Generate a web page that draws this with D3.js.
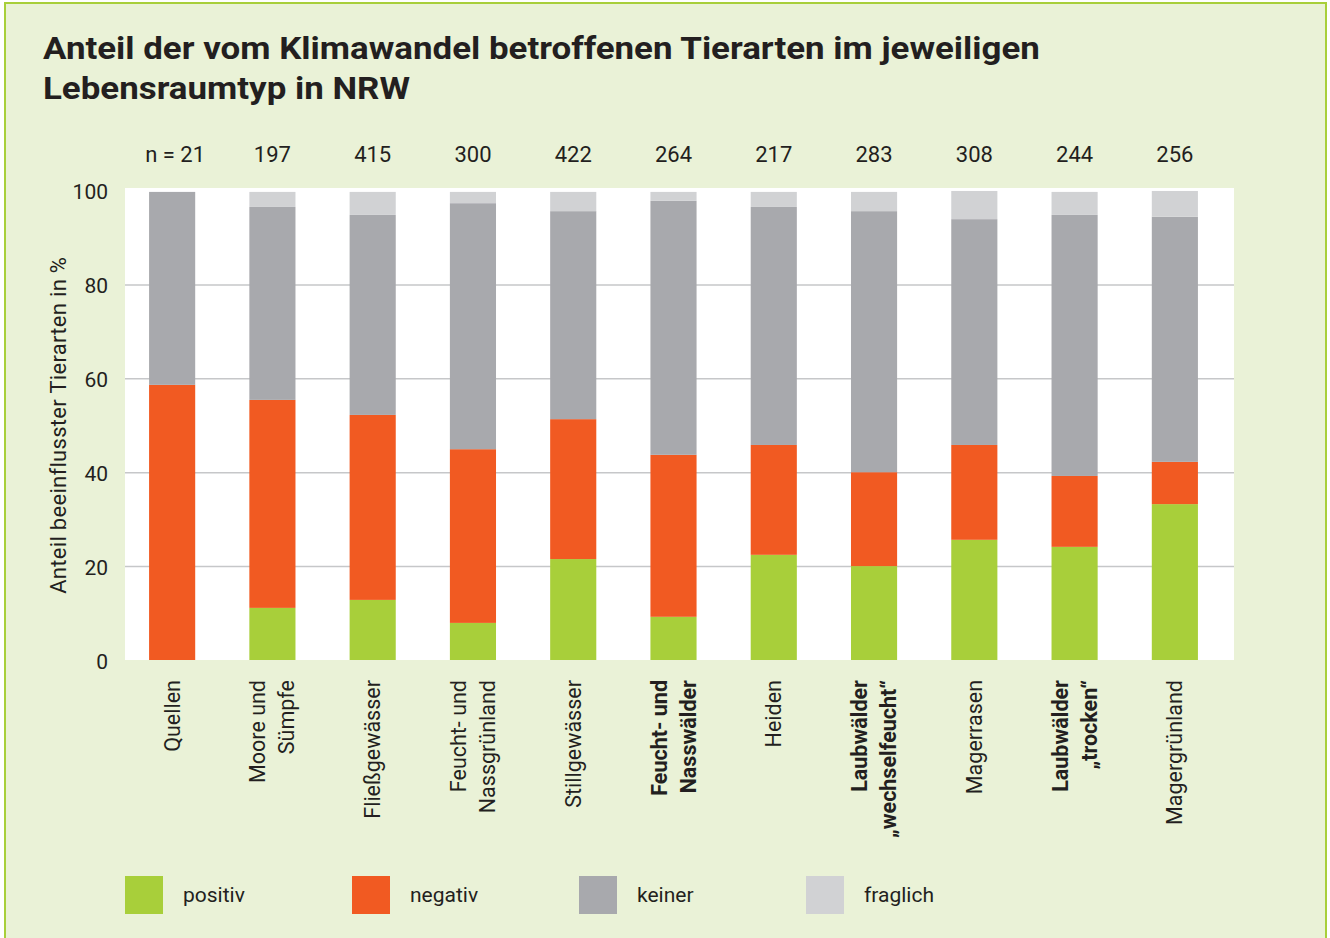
<!DOCTYPE html>
<html lang="de">
<head>
<meta charset="utf-8">
<script src="https://cdn.jsdelivr.net/npm/d3@7"></script>
<style>
  body { margin: 0; background: #fff; }
  text { font-family: Roboto, 'Open Sans', sans-serif; fill: #231f20; }
</style>
</head>
<body>
<div class="canvas"></div>
<script>
// data (shares in %)
const categories = [
    'Quellen', 'Moore und\nSümpfe', 'Fließgewässer', 'Feucht- und\nNassgrünland',
    'Stillgewässer', 'Feucht- und\nNasswälder', 'Heiden', 'Laubwälder\n„wechselfeucht“',
    'Magerrasen', 'Laubwälder\n„trocken“', 'Magergrünland'
];
const nCounts = [21, 197, 415, 300, 422, 264, 217, 283, 308, 244, 256];
const positiv = [0, 11.1, 12.8, 7.9, 21.5, 9.2, 22.4, 20.0, 25.6, 24.1, 33.2];
const negativ = [58.6, 44.3, 39.4, 37.0, 29.8, 34.5, 23.4, 20.0, 20.2, 15.1, 9.0];
const keiner = [41.1, 41.1, 42.6, 52.4, 44.3, 54.1, 50.7, 55.6, 48.1, 55.6, 52.2];
const fraglich = [0, 3.2, 4.9, 2.4, 4.1, 1.9, 3.2, 4.1, 6.0, 4.9, 5.5];
const seriesNames = ['positiv', 'negativ', 'keiner', 'fraglich'];
const yTicks = [0, 20, 40, 60, 80, 100];

// category labels printed in bold
const boldLabels = ['Feucht- und\nNasswälder', 'Laubwälder\n„wechselfeucht“', 'Laubwälder\n„trocken“'];

const colours = d3.scaleOrdinal()
    .domain(seriesNames)
    .range(['#a8cf3a', '#f15a22', '#a8a9ad', '#d1d2d4']);

const width = 1330;
const height = 938;

const svg = d3.select('.canvas')
    .append('svg')
    .attr('width', width)
    .attr('height', height);

// light green panel with border
svg.append('rect')
    .attr('x', 5)
    .attr('y', 3)
    .attr('width', 1321)
    .attr('height', 945)
    .attr('fill', '#eaf2d7')
    .attr('stroke', '#a8cf3a')
    .attr('stroke-width', 2);

// title, stretched horizontally to the width of the original lettering
const title = svg.append('text')
    .attr('font-size', 31)
    .attr('font-weight', 700);
const line1 = title.append('tspan').attr('y', 59)
    .text('Anteil der vom Klimawandel betroffenen Tierarten im jeweiligen');
title.append('tspan').attr('y', 99)
    .text('Lebensraumtyp in NRW');
const sx = 997 / line1.node().getComputedTextLength();
title.attr('transform', `scale(${sx}, 1)`)
    .selectAll('tspan').attr('x', 43 / sx);

// scales
const x = d3.scaleBand()
    .domain(categories)
    .range([122, 1225])
    .paddingInner(0.54)
    .paddingOuter(0.27);

const y = d3.scaleLinear()
    .domain([0, 100])
    .range([660, 190.5]);

// white plot area
svg.append('rect')
    .attr('x', 125)
    .attr('y', 188)
    .attr('width', 1109)
    .attr('height', y(0) - 188)
    .attr('fill', '#fff');

// gridlines
const gridGroup = svg.append('g')
    .attr('transform', 'translate(125, 0)')
    .call(d3.axisLeft(y)
        .tickValues([20, 40, 60, 80])
        .tickSize(-1109)
        .tickFormat(''));
gridGroup.select('.domain').remove();
gridGroup.selectAll('line')
    .attr('stroke', '#c6c7c9')
    .attr('stroke-width', 1.5);

// y axis labels
const yAxisGroup = svg.append('g')
    .attr('transform', 'translate(125, 0)')
    .call(d3.axisLeft(y).tickValues(yTicks).tickSize(0).tickPadding(17));
yAxisGroup.select('.domain').remove();
yAxisGroup.selectAll('text')
    .attr('font-size', 21)
    .attr('font-family', 'Roboto, sans-serif')
    .attr('fill', '#231f20')
    .attr('dy', '0.4em');

svg.append('text')
    .attr('transform', `translate(66, ${(y(0) + y(100)) / 2}) rotate(-90)`)
    .attr('text-anchor', 'middle')
    .attr('font-size', 22)
    .attr('letter-spacing', 0.3)
    .text('Anteil beeinflusster Tierarten in %');

// stacked bars
const table = categories.map((c, i) => ({
    category: c,
    positiv: positiv[i],
    negativ: negativ[i],
    keiner: keiner[i],
    fraglich: fraglich[i]
}));

const stacked = d3.stack().keys(seriesNames)(table);

svg.append('g')
    .selectAll('g')
    .data(stacked)
    .enter()
    .append('g')
    .attr('fill', d => colours(d.key))
    .selectAll('rect')
    .data(d => d)
    .enter()
    .append('rect')
    .attr('x', d => x(d.data.category))
    .attr('y', d => y(d[1]))
    .attr('width', x.bandwidth())
    .attr('height', d => y(d[0]) - y(d[1]));

// n counts above bars
svg.append('g')
    .selectAll('text')
    .data(categories)
    .enter()
    .append('text')
    .attr('x', (d, i) => x(d) + x.bandwidth() / 2 + (i === 0 ? 3 : 0))
    .attr('y', 162)
    .attr('text-anchor', 'middle')
    .attr('font-size', 22)
    .text((d, i) => i === 0 ? `n = ${nCounts[i]}` : nCounts[i]);

// rotated category labels
const labels = svg.append('g')
    .selectAll('text')
    .data(categories)
    .enter()
    .append('text')
    .attr('transform', d => `translate(${x(d) + x.bandwidth() / 2}, 680) rotate(-90)`)
    .attr('text-anchor', 'end')
    .attr('font-size', 21.5)
    .attr('font-weight', d => boldLabels.includes(d) ? 700 : 400);

labels.each(function (d) {
    const lines = d.split('\n');
    const offset = (lines.length - 1) * 14.5;
    d3.select(this).selectAll('tspan')
        .data(lines)
        .enter()
        .append('tspan')
        .attr('x', 0)
        .attr('y', (l, i) => i * 29 - offset)
        .attr('dy', '0.35em')
        .text(l => l);
});

// legend
const legendX = d3.scalePoint()
    .domain(seriesNames)
    .range([125, 806]);

const legend = svg.append('g')
    .selectAll('g')
    .data(seriesNames)
    .enter()
    .append('g')
    .attr('transform', d => `translate(${legendX(d)}, 876)`);

legend.append('rect')
    .attr('width', 38)
    .attr('height', 38)
    .attr('fill', d => colours(d));

legend.append('text')
    .attr('x', 58)
    .attr('y', 19)
    .attr('dy', '0.35em')
    .attr('font-size', 21)
    .text(d => d);
</script>
</body>
</html>
